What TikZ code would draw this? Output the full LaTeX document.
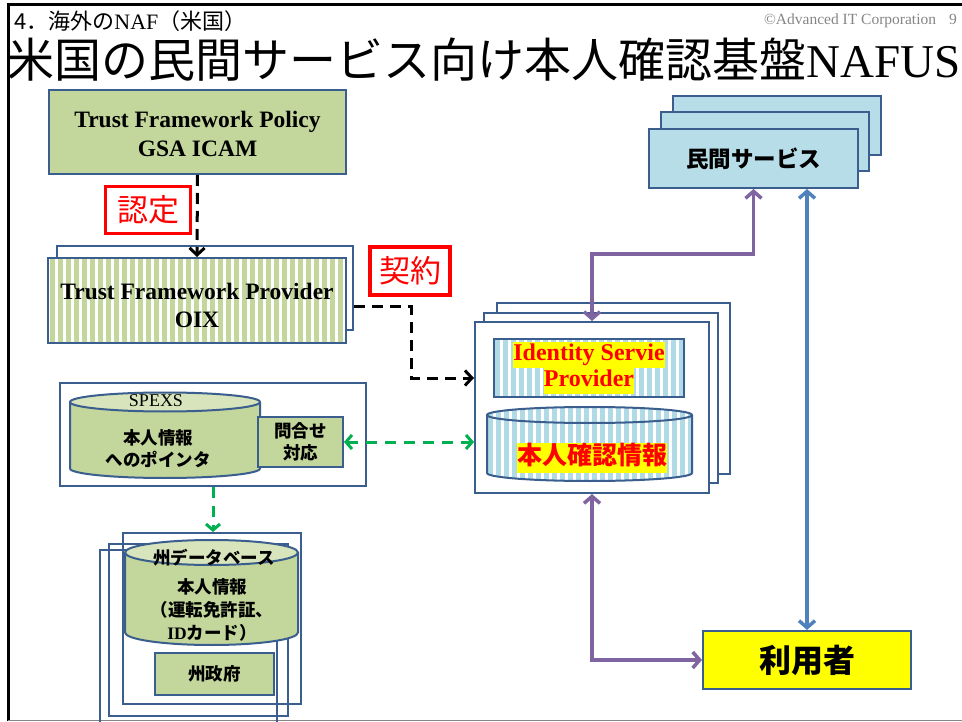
\documentclass[tikz,border=0pt]{standalone}
\usepackage{fontspec}
\setmainfont{Liberation Serif}
\newfontfamily\jp{Noto Sans CJK JP}
\usetikzlibrary{arrows.meta}
\definecolor{bdr}{HTML}{3A5F8E}
\definecolor{grn}{HTML}{C3D69B}
\definecolor{grnl}{HTML}{D8E4BC}
\definecolor{lbl}{HTML}{B7DEE8}
\definecolor{lbs}{HTML}{B0DAE6}
\definecolor{purp}{HTML}{8064A2}
\definecolor{bluar}{HTML}{4F81BD}
\definecolor{gdash}{HTML}{00B050}
\definecolor{yel}{HTML}{FFFF00}
\definecolor{cpy}{HTML}{858585}
\newcommand\hlt[1]{{\setlength{\fboxsep}{0pt}\colorbox{yel}{\strut #1}}}
\begin{document}
\begin{tikzpicture}[x=1pt,y=-1pt,
  box/.style={draw=bdr, line width=2pt, inner sep=0pt, align=center},
  stripes/.style 2 args={path picture={\foreach \i in {0,...,40}{\fill[#1] ([xshift=\i*8pt+#2]path picture bounding box.south west) rectangle ++(4.5pt,400pt);}}},
  lat/.style={font=\fontsize{23.5}{29}\selectfont\bfseries},
  jb/.style={font=\jp\bfseries\fontsize{17.5}{22}\selectfont, align=center, inner sep=0pt},
  redlab/.style={draw=red, line width=3.5pt, fill=white, text=red, font=\jp\fontsize{31}{34}\selectfont, inner sep=0pt},
  blk/.style={draw=black, line width=3pt, dash pattern=on 11pt off 7pt, -{Straight Barb[length=7pt,width=15pt]}},
  gd/.style={draw=gdash, line width=3pt, dash pattern=on 11pt off 8pt},
  ga/.style={gd, -{Straight Barb[length=6pt,width=14pt]}},
  gda/.style={gd, {Straight Barb[length=6pt,width=14pt]}-{Straight Barb[length=6pt,width=14pt]}},
  pa/.style={draw=purp, line width=3.5pt, {Straight Barb[length=7pt,width=16pt]}-{Straight Barb[length=7pt,width=16pt]}},
  ba/.style={draw=bluar, line width=3.5pt, {Straight Barb[length=7pt,width=16pt]}-{Straight Barb[length=7pt,width=16pt]}}
]
\useasboundingbox (0,0) rectangle (962,722);
% frame
\draw[line width=3pt] (8,721) -- (8,4.5) -- (962,4.5);
\draw[cpy, line width=1.5pt] (8,720.5) -- (962,720.5);
% headings
\node[anchor=base west, inner sep=0pt, font=\fontsize{22}{24}\selectfont] (sub) at (14,30) {{\jp 4．海外の}NAF{\jp（米国）}};
\node[anchor=base east, inner sep=0pt, text=cpy, font=\fontsize{15.5}{17}\selectfont] (cpr) at (957,25) {©Advanced IT Corporation\hspace{13pt}9};
\node[anchor=base west, inner sep=0pt, font=\fontsize{47}{50}\selectfont] (title) at (7,78) {{\jp 米国の民間サービス向け本人確認基盤}NAFUS};

% Trust Framework Policy
\node[box, fill=grn, lat, minimum width=297pt, minimum height=84pt] (tfpol) at (197.5,132) {\rule{0pt}{21pt}Trust Framework Policy\\GSA ICAM};
% Trust Framework Provider stack
\node[box, fill=white, minimum width=296pt, minimum height=84pt] (tfpb) at (205,288) {};
\node[box, fill=white, stripes={grn}{2pt}, font=\fontsize{23.5}{28}\selectfont\bfseries, minimum width=298pt, minimum height=85pt] (tfpf) at (197,300.5) {\rule{0pt}{26pt}Trust Framework Provider\\OIX};
% red labels
\node[redlab, minimum width=85pt, minimum height=47pt] (nintei) at (148,210) {認定};
\node[redlab, minimum width=80pt, minimum height=48pt] (keiyaku) at (410,271) {契約};

% SPEXS
\node[box, fill=white, minimum width=306pt, minimum height=103pt] (spx) at (213,434.5) {};
\path[fill=grn] (70,402) -- (70,468.5) arc[start angle=180,end angle=360,x radius=95pt,y radius=9.5pt] -- (260,402) arc[start angle=0,end angle=-180,x radius=95pt,y radius=9.5pt] -- cycle;
\draw[bdr, line width=2pt] (70,402) -- (70,468.5) arc[start angle=180,end angle=360,x radius=95pt,y radius=9.5pt] -- (260,402);
\draw[bdr, line width=2pt, fill=grnl] (165,402) ellipse[x radius=95pt, y radius=9.5pt];
\node[inner sep=0pt, font=\fontsize{18}{20}\selectfont] (spxn) at (156,401) {SPEXS};
\node[jb] (spxt) at (158,449) {本人情報\\へのポインタ};
\node[box, fill=grn, jb, minimum width=85pt, minimum height=50pt] (ask) at (300.5,442) {問合せ\\対応};

% State database
\node[box, minimum width=177pt, minimum height=190pt] (dbc) at (188.5,645) {};
\node[box, minimum width=179pt, minimum height=172pt] (dbb) at (198.5,630) {};
\node[box, minimum width=178pt, minimum height=171pt] (dba) at (212,618.5) {};
\path[fill=grn] (125,552.5) -- (125,632.5) arc[start angle=180,end angle=360,x radius=86.5pt,y radius=12.5pt] -- (298,552.5) arc[start angle=0,end angle=-180,x radius=86.5pt,y radius=12.5pt] -- cycle;
\draw[bdr, line width=2pt] (125,552.5) -- (125,632.5) arc[start angle=180,end angle=360,x radius=86.5pt,y radius=12.5pt] -- (298,552.5);
\draw[bdr, line width=2pt, fill=grnl] (211.5,552.5) ellipse[x radius=86.5pt, y radius=12.5pt];
\node[jb] (dbn) at (214,558) {州データベース};
\node[jb, font=\jp\bfseries\fontsize{17.5}{23}\selectfont] (dbt) at (212,610) {本人情報\\（運転免許証、\\{\rmfamily\bfseries ID}カード）};
\node[box, fill=grn, jb, minimum width=119pt, minimum height=42pt] (gov) at (214.5,674) {州政府};

% Identity Service Provider stack
\node[box, fill=white, minimum width=233pt, minimum height=171pt] (isp3) at (613.5,388.5) {};
\node[box, fill=white, minimum width=234pt, minimum height=170pt] (isp2) at (601,398) {};
\node[box, fill=white, minimum width=234pt, minimum height=171pt] (ispf) at (592,407.5) {};
\node[box, fill=white, stripes={lbs}{1pt}, minimum width=190pt, minimum height=58pt, text=red, font=\fontsize{24}{26}\selectfont\bfseries] (isp) at (589,368) {\hlt{Identity Servie}\\\hlt{Provider}};
\path[fill=white, stripes={lbs}{1pt}] (487,415) -- (487,473) arc[start angle=180,end angle=360,x radius=102.5pt,y radius=8pt] -- (692,415) arc[start angle=0,end angle=180,x radius=102.5pt,y radius=8pt] -- cycle;
\draw[bdr, line width=2pt] (487,415) -- (487,473) arc[start angle=180,end angle=360,x radius=102.5pt,y radius=8pt] -- (692,415);
\draw[bdr, line width=2pt] (589.5,415) ellipse[x radius=102.5pt, y radius=8pt];
\node[inner sep=0pt, text=red, font=\jp\bfseries\fontsize{25}{28}\selectfont] (idinfo) at (592,458) {\hlt{本人確認情報}};

% private services stack
\node[box, fill=lbl, minimum width=208pt, minimum height=59pt] (min3) at (777,125.5) {};
\node[box, fill=lbl, minimum width=208pt, minimum height=59pt] (min2) at (765,141.5) {};
\node[box, fill=lbl, minimum width=209pt, minimum height=59pt, font=\jp\bfseries\fontsize{22.5}{25}\selectfont] (minf) at (753.5,158.5) {民間サービス};

% user
\node[box, fill=yel, minimum width=208pt, minimum height=58pt, font=\jp\bfseries\fontsize{32}{34}\selectfont] (usr) at (807,660) {利用者};

% connectors
\draw[blk] (tfpol.south) -- (tfpf.north);
\coordinate (k1) at (411,307);
\coordinate (k2) at (411,378);
\draw[blk] (tfpb.east |- k1) -- (k1) -- (k2) -- (ispf.west |- k2);
\draw[gda] (ask.east) -- (ispf.west |- ask.east);
\draw[ga] (spx.south) -- (spx.south |- dba.north);
\coordinate (p1) at (592,254);
\draw[pa] (ispf.north) -- (p1) -| (minf.south);
\draw[ba] (usr.north) -- (usr.north |- minf.south);
\draw[pa] (ispf.south) |- (usr.west);
\end{tikzpicture}
\end{document}
